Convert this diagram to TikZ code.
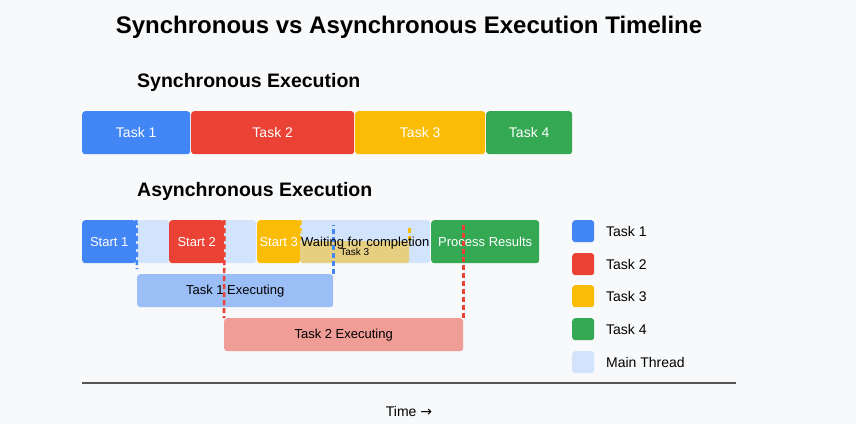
\documentclass[tikz,border=0pt]{standalone}
\usepackage{fontspec}
\setmainfont{Liberation Sans}
\newfontfamily\arrowfont{DejaVu Sans}
\usetikzlibrary{positioning,calc}

\definecolor{pagebg}{HTML}{F8F9FA}
\definecolor{gblue}{HTML}{4285F4}
\definecolor{gred}{HTML}{EA4335}
\definecolor{gyellow}{HTML}{FBBC05}
\definecolor{ggreen}{HTML}{34A853}
\definecolor{mainthread}{HTML}{D2E3FC}
\definecolor{axisgrey}{HTML}{555555}

\begin{document}
\begin{tikzpicture}[x=1pt,y=-1pt,
  box/.style 2 args={rounded corners=3pt,inner sep=0pt,anchor=north west,
    minimum width=#1pt,minimum height=#2pt},
  syncbar/.style={text=white,font=\fontsize{14}{16}\selectfont},
  asyncbar/.style={text=white,font=\fontsize{13}{15}\selectfont},
  execbar/.style={fill opacity=0.5,text opacity=1,font=\fontsize{13}{15}\selectfont},
  marker/.style={line width=2.6pt,dash pattern=on 5pt off 3pt},
  legendbox/.style={rounded corners=3pt,inner sep=0pt,anchor=north west,minimum size=22pt},
  legendtext/.style={right=11.5pt of #1,inner sep=0pt,font=\fontsize{14}{16}\selectfont}]

  \useasboundingbox[fill=pagebg] (0,0) rectangle (856,424);

  \node[font=\bfseries\fontsize{24}{28}\selectfont] (title) at (409,27) {Synchronous vs Asynchronous Execution Timeline};
  \node[anchor=west,inner sep=0pt,font=\bfseries\fontsize{19.5}{22}\selectfont] (synchead) at (137,82) {Synchronous Execution};
  \node[anchor=west,inner sep=0pt,font=\bfseries\fontsize{19.5}{22}\selectfont] (asynchead) at (137,191) {Asynchronous Execution};

  % synchronous row
  \node[box={108}{43},syncbar,fill=gblue] (t1) at (82,111) {Task 1};
  \node[box={163}{43},syncbar,fill=gred] (t2) at (191,111) {Task 2};
  \node[box={130}{43},syncbar,fill=gyellow] (t3) at (355,111) {Task 3};
  \node[box={86}{43},syncbar,fill=ggreen] (t4) at (486,111) {Task 4};

  % asynchronous row
  \node[box={54}{43},asyncbar,fill=gblue] (s1) at (82,220) {Start 1};
  \node[box={32}{43},fill=mainthread] (m1) at (137,220) {};
  \node[box={55}{43},asyncbar,fill=gred] (s2) at (169,220) {Start 2};
  \node[box={32}{43},fill=mainthread] (m2) at (224,220) {};
  \node[box={43}{43},asyncbar,fill=gyellow] (s3) at (257,220) {Start 3};
  \node[box={130}{43},fill=mainthread] (wait) at (300,220) {};
  \node[box={108}{43},asyncbar,fill=ggreen] (res) at (431,220) {Process Results};

  \node[box={109}{22},execbar,fill=gyellow,font=\fontsize{10}{12}\selectfont] (e3) at (300,241) {Task 3};
  \node[box={196}{33},execbar,fill=gblue] (e1) at (137,274) {Task 1 Executing};
  \node[box={239}{33},execbar,fill=gred] (e2) at (224,318) {Task 2 Executing};

  \draw[marker,gblue] (s1.north east) -- ([yshift=5pt]e1.north west);
  \draw[marker,gblue] (e1.north east) -- ($(e1.north east |- wait.north)+(0,5)$);
  \draw[marker,gred] (s2.north east) -- (e2.north west);
  \draw[marker,gred] (e2.north east) -- ($(e2.north east |- res.north)+(0,5)$);
  \draw[marker,gyellow] (s3.north east) -- (e3.north west);
  \draw[marker,gyellow] (e3.north east) -- ($(e3.north east |- wait.north)+(0,5)$);

  \node[font=\fontsize{13}{15}\selectfont] (waittext) at ([yshift=-1pt]wait.center) {Waiting for completion};

  % legend
  \node[legendbox,fill=gblue] (l1) at (572,220) {};
  \node[legendbox,fill=gred] (l2) at (572,253) {};
  \node[legendbox,fill=gyellow] (l3) at (572,285) {};
  \node[legendbox,fill=ggreen] (l4) at (572,318) {};
  \node[legendbox,fill=mainthread] (l5) at (572,351) {};
  \node[legendtext=l1] {Task 1};
  \node[legendtext=l2] {Task 2};
  \node[legendtext=l3] {Task 3};
  \node[legendtext=l4] {Task 4};
  \node[legendtext=l5] {Main Thread};

  % time axis
  \coordinate (axisL) at (82,383);
  \coordinate (axisR) at (736,383);
  \draw[axisgrey,line width=2pt] (axisL) -- (axisR);
  \node[font=\fontsize{14}{16}\selectfont] (time) at (409,411) {Time {\arrowfont →}};

\end{tikzpicture}
\end{document}
